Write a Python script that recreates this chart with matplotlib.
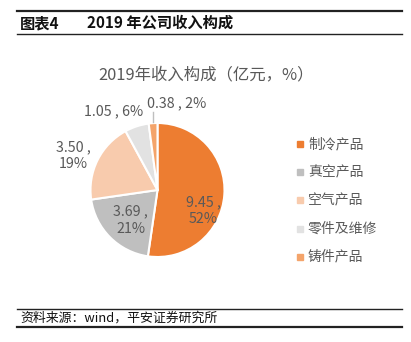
import matplotlib
matplotlib.use("Agg")
import matplotlib.pyplot as plt
from matplotlib.lines import Line2D

plt.rcParams['font.family'] = ['Noto Sans CJK SC', 'DejaVu Sans']

# ---------------------------
# DATA
# ---------------------------
categories = ["制冷产品", "真空产品", "空气产品", "零件及维修", "铸件产品"]
revenue = [9.45, 3.69, 3.50, 1.05, 0.38]   # 亿元
share = [52, 21, 19, 6, 2]                  # %
colors = ["#ED7D31", "#BFBFBF", "#F8CBAD", "#E2E2E2", "#F4A46B"]

W, H = 411, 342
TXT = "#595959"


def fp(x, y):
    # pixel (from top-left) -> figure fraction
    return x / W, 1 - y / H


fig = plt.figure(figsize=(W / 100, H / 100), dpi=100)

# header / footer rules
for y, lw in [(11, 1.6), (34, 1.0), (309, 1.0), (327, 1.6)]:
    fig.add_artist(Line2D([17 / W, 402 / W], [1 - y / H] * 2, color="#222222", lw=lw))

fig.text(*fp(20, 23), "图表4", fontsize=11, fontweight="bold", va="center", color="#111111")
fig.text(*fp(87, 23), "2019 年公司收入构成", fontsize=11, fontweight="bold",
         va="center", color="#111111")
fig.text(*fp(20, 318), "资料来源：wind，平安证券研究所", fontsize=9.3, style="italic",
         va="center", color="#111111")

# chart title
fig.text(*fp(206, 75), "2019年收入构成（亿元，%）", fontsize=11.8, ha="center",
         va="center", color=TXT)

# pie
cx, cy, r = 157.5, 190, 67
ax = fig.add_axes([(cx - r) / W, (H - cy - r) / H, 2 * r / W, 2 * r / H])
ax.pie(revenue, colors=colors, startangle=90, counterclock=False,
       wedgeprops=dict(edgecolor="white", linewidth=1.5))
ax.set_xlim(-1, 1)
ax.set_ylim(-1, 1)
ax.set_aspect("auto")
ax.axis("off")

# label placements (data units of the pie axes)
label_pos = [(0.68, -0.31), (-0.40, -0.45), (-1.26, 0.51), (-0.66, 1.17), (0.28, 1.30)]
two_line = [True, True, True, False, False]
for v, p, (lx, ly), tl in zip(revenue, share, label_pos, two_line):
    sep = " ,\n" if tl else " , "
    ax.text(lx, ly, f"{v:.2f}{sep}{p}%", ha="center", va="center", fontsize=10.3,
            color=TXT, linespacing=1.3, clip_on=False)
ax.add_line(Line2D([-0.07, -0.07], [1.01, 1.17], color="#BFBFBF", lw=1, clip_on=False))

# legend
for i, (name, c) in enumerate(zip(categories, colors)):
    y = 144 + i * 28.2
    fig.add_artist(Line2D([300 / W], [1 - y / H], marker="s", markersize=4,
                          color=c, linestyle="none"))
    fig.text(*fp(308, y), name, fontsize=10, va="center", color=TXT)

fig.savefig("out.png", dpi=100)
